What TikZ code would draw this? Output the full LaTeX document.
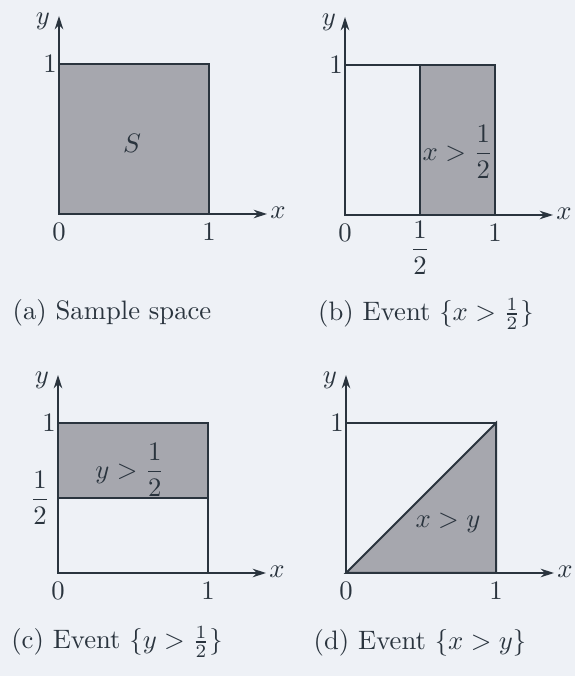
\documentclass[tikz,border=0pt]{standalone}
\usepackage{amsmath}
\usepackage{amssymb}
\usepackage{tikz}
\usetikzlibrary{positioning,arrows.meta}

\definecolor{paper}{RGB}{238,241,246}
\definecolor{shade}{RGB}{166,167,174}
\definecolor{ink}{RGB}{42,52,62}

\tikzset{
  axis/.style={draw=ink,line width=0.5pt,-{Stealth[length=5pt,width=3.2pt]}},
  box/.style={draw=ink,line width=0.75pt},
  event/.style={fill=shade,draw=ink,line width=0.75pt},
  lbl/.style={text=ink,inner sep=1pt},
  capt/.style={text=ink,inner sep=1pt}
}

\begin{document}
\begin{tikzpicture}[x=0.375pt,y=0.375pt,font=\normalsize,>=Stealth]
  \fill[paper] (0,0) rectangle (575,676);
  \useasboundingbox (0,0) rectangle (575,676);
  % ---------------- (a) sample space ----------------
  \begin{scope}[shift={(59,462)}]
    \filldraw[event] (0,0) rectangle (150,150);
    \node[lbl] (sset) at (73,71) {$S$};
    \node[capt] (acap) at (53,-99) {(a) Sample space};
  \end{scope}
  % ---------------- (b) x > 1/2 ----------------
  \begin{scope}[shift={(345,461)}]
    \filldraw[event] (75,0) rectangle (150,150);
    \draw[box] (0,0) rectangle (150,150);
    \node[lbl] (bev) at (113,63) {$x>\dfrac{1}{2}$};
    \node[lbl] (bhalf) at (75,-33) {$\dfrac{1}{2}$};
    \node[capt] (bcap) at (81,-99) {(b) Event $\{x>\frac{1}{2}\}$};
  \end{scope}
  % ---------------- (c) y > 1/2 ----------------
  \begin{scope}[shift={(58,103)}]
    \filldraw[event] (0,75) rectangle (150,150);
    \draw[box] (0,0) rectangle (150,150);
    \node[lbl] (cev) at (72,103) {$y>\dfrac{1}{2}$};
    \node[lbl] (chalf) at (-18,75) {$\dfrac{1}{2}$};
    \node[capt] (ccap) at (59,-69) {(c) Event $\{y>\frac{1}{2}\}$};
  \end{scope}
  % ---------------- (d) x > y ----------------
  \begin{scope}[shift={(346,103)}]
    \draw[box] (0,0) rectangle (150,150);
    \filldraw[event] (0,0) -- (150,0) -- (150,150) -- cycle;
    \node[lbl] (dev) at (102,50) {$x>y$};
    \node[capt] (dcap) at (74,-70) {(d) Event $\{x>y\}$};
  \end{scope}
  % ---------------- axes of all four ----------------
  \foreach \p/\ox/\oy in {a/59/462,b/345/461,c/58/103,d/346/103}{
    \begin{scope}[shift={(\ox,\oy)}]
      \coordinate (\p-o) at (0,0);
      \coordinate (\p-xend) at (208,0);
      \coordinate (\p-yend) at (0,198);
      \draw[axis] (\p-o) -- (\p-xend);
      \draw[axis] (\p-o) -- (\p-yend);
      \node[lbl] (\p-xl) at (219,1) {$x$};
      \node[lbl] (\p-yl) at (-16,193) {$y$};
      \node[lbl] (\p-zero) at (0,-18) {0};
      \node[lbl] (\p-one) at (150,-18) {1};
      \node[lbl] (\p-ytop) at (-9,150) {1};
    \end{scope}
  }
\end{tikzpicture}
\end{document}
